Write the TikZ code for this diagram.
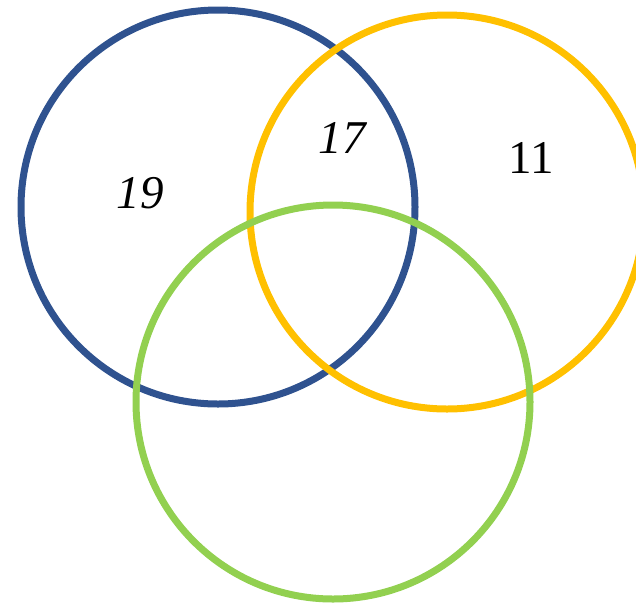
\documentclass[tikz,border=0pt]{standalone}
\usepackage{fontspec}
\setmainfont{Liberation Serif}
\definecolor{vblue}{HTML}{2F528F}
\definecolor{vorange}{HTML}{FFC000}
\definecolor{vgreen}{HTML}{92D050}
\begin{document}
\begin{tikzpicture}[x=1pt,y=-1pt,
  ring/.style={line width=7pt},
  num/.style={font=\fontsize{47}{50}\selectfont, inner sep=0pt}]
\useasboundingbox (0,0) rectangle (636,603);
\begin{scope}
\clip (0,0) rectangle (636,603);
\draw[ring, vblue] (218,207) circle (197);
\draw[ring, vorange] (447,212) circle (197);
\draw[ring, vgreen] (333,402) circle (197);
\end{scope}
\node[num] (a) at (140,193) {\itshape 19};
\node[num] (b) at (342,138) {\itshape 17};
\node[num] (c) at (531,158) {11};
\end{tikzpicture}
\end{document}
